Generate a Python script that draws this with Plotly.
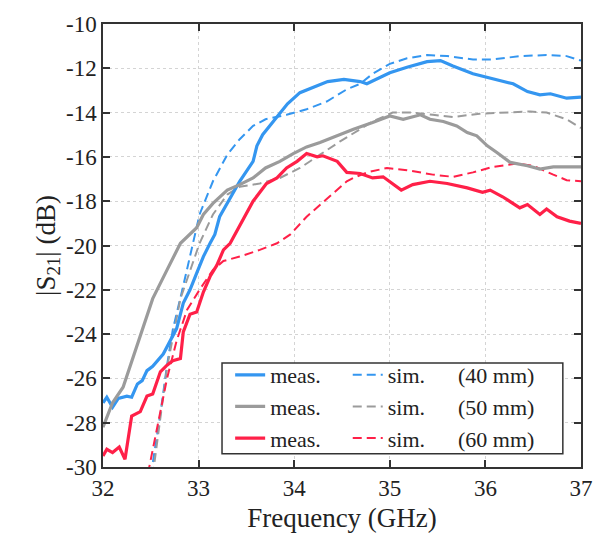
import plotly.graph_objects as go

# ---- data ----
blue_meas_x = [32.00, 32.04, 32.10, 32.16, 32.25, 32.30, 32.36, 32.41, 32.46, 32.52, 32.63, 32.70, 32.77, 32.84, 32.91, 32.98, 33.05, 33.12, 33.17, 33.22, 33.31, 33.43, 33.57, 33.61, 33.67, 33.82, 33.93, 34.06, 34.17, 34.35, 34.52, 34.69, 34.76, 35.00, 35.18, 35.39, 35.53, 35.66, 35.87, 36.02, 36.29, 36.44, 36.57, 36.68, 36.85, 37.00]
blue_meas_y = [-27.1, -26.85, -27.3, -26.9, -26.8, -26.85, -26.25, -26.1, -25.65, -25.45, -24.9, -24.3, -23.75, -22.6, -22.0, -21.25, -20.5, -19.9, -19.5, -18.7, -18.0, -17.1, -16.2, -15.5, -15.0, -14.2, -13.6, -13.1, -12.9, -12.6, -12.5, -12.6, -12.7, -12.2, -11.95, -11.7, -11.65, -11.9, -12.25, -12.4, -12.7, -13.05, -13.2, -13.15, -13.35, -13.3]

blue_sim_x = [32.50, 32.60, 32.67, 32.73, 32.83, 32.96, 33.01, 33.15, 33.30, 33.43, 33.57, 33.70, 33.92, 34.13, 34.34, 34.55, 34.69, 34.82, 35.00, 35.18, 35.39, 35.60, 35.87, 36.08, 36.36, 36.64, 36.85, 37.00]
blue_sim_y = [-30.4, -27.6, -25.4, -23.8, -22.0, -19.6, -18.6, -17.1, -15.9, -15.2, -14.6, -14.3, -14.1, -13.85, -13.5, -12.95, -12.7, -12.25, -11.8, -11.55, -11.4, -11.45, -11.6, -11.6, -11.45, -11.4, -11.45, -11.65]

gray_meas_x = [32.00, 32.10, 32.21, 32.31, 32.42, 32.52, 32.67, 32.81, 32.98, 33.05, 33.15, 33.30, 33.43, 33.57, 33.70, 33.85, 33.99, 34.13, 34.27, 34.41, 34.55, 34.62, 34.82, 35.00, 35.14, 35.32, 35.42, 35.56, 35.70, 35.81, 35.91, 36.02, 36.12, 36.26, 36.44, 36.57, 36.71, 36.85, 37.00]
gray_meas_y = [-28.2, -27.1, -26.4, -25.1, -23.6, -22.4, -21.1, -19.9, -19.2, -18.6, -18.1, -17.5, -17.25, -16.95, -16.5, -16.2, -15.85, -15.55, -15.35, -15.1, -14.85, -14.75, -14.45, -14.15, -14.3, -14.1, -14.3, -14.4, -14.6, -14.9, -15.05, -15.5, -15.8, -16.25, -16.4, -16.55, -16.45, -16.45, -16.45]

gray_sim_x = [32.52, 32.60, 32.67, 32.81, 32.98, 33.01, 33.15, 33.30, 33.43, 33.64, 33.85, 34.06, 34.27, 34.48, 34.69, 34.82, 35.03, 35.24, 35.45, 35.66, 35.94, 36.23, 36.47, 36.64, 36.85, 37.00]
gray_sim_y = [-30.4, -27.8, -25.5, -22.4, -20.2, -19.9, -18.6, -17.7, -17.35, -17.2, -16.95, -16.5, -15.9, -15.3, -14.75, -14.4, -14.0, -14.0, -14.1, -14.2, -14.05, -14.0, -13.95, -14.0, -14.3, -14.7]

red_meas_x = [32.00, 32.04, 32.10, 32.17, 32.23, 32.30, 32.39, 32.46, 32.52, 32.60, 32.67, 32.73, 32.81, 32.84, 32.91, 32.98, 33.05, 33.12, 33.19, 33.26, 33.33, 33.46, 33.57, 33.71, 33.82, 33.92, 34.03, 34.13, 34.24, 34.30, 34.45, 34.55, 34.69, 34.82, 34.93, 35.12, 35.24, 35.42, 35.60, 35.81, 35.97, 36.05, 36.18, 36.36, 36.44, 36.57, 36.64, 36.75, 36.88, 37.00]
red_meas_y = [-29.5, -29.2, -29.35, -29.1, -29.65, -27.7, -27.5, -26.8, -26.7, -25.7, -25.4, -25.2, -25.1, -23.9, -23.1, -23.0, -22.1, -21.4, -20.9, -20.2, -19.9, -18.9, -18.0, -17.2, -16.95, -16.5, -16.2, -15.85, -16.0, -15.95, -16.2, -16.7, -16.75, -16.95, -16.9, -17.5, -17.25, -17.1, -17.2, -17.4, -17.6, -17.5, -17.8, -18.3, -18.15, -18.6, -18.35, -18.7, -18.9, -19.0]

red_sim_x = [32.47, 32.56, 32.67, 32.77, 32.88, 33.01, 33.15, 33.26, 33.43, 33.64, 33.82, 33.96, 34.13, 34.34, 34.55, 34.62, 34.76, 34.97, 35.18, 35.45, 35.66, 35.87, 36.08, 36.33, 36.50, 36.71, 36.85, 37.00]
red_sim_y = [-30.3, -28.3, -26.0, -24.3, -22.9, -22.0, -21.1, -20.7, -20.5, -20.2, -19.9, -19.5, -18.7, -17.9, -17.1, -16.95, -16.7, -16.5, -16.6, -16.8, -16.9, -16.7, -16.45, -16.3, -16.4, -16.8, -17.05, -17.1]

x_ticks = [32, 33, 34, 35, 36, 37]
x_tick_text = ["32", "33", "34", "35", "36", "37"]
y_ticks = [-30, -28, -26, -24, -22, -20, -18, -16, -14, -12, -10]
y_tick_text = ["-30", "-28", "-26", "-24", "-22", "-20", "-18", "-16", "-14", "-12", "-10"]
labels_meas = ["meas.", "meas.", "meas."]
labels_len = ["(40 mm)", "(50 mm)", "(60 mm)"]

BLUE = "rgb(52,150,240)"
GRAY = "rgb(155,155,155)"
RED = "rgb(255,32,72)"
FONT = "Times New Roman"
TXT = "#222222"

fig = go.Figure()
series = [
    (blue_meas_x, blue_meas_y, blue_sim_x, blue_sim_y, BLUE, labels_len[0]),
    (gray_meas_x, gray_meas_y, gray_sim_x, gray_sim_y, GRAY, labels_len[1]),
    (red_meas_x, red_meas_y, red_sim_x, red_sim_y, RED, labels_len[2]),
]
for i, (mx, my, sx, sy, col, lab) in enumerate(series):
    fig.add_trace(go.Scatter(x=sx, y=sy, mode="lines", name="sim.&nbsp;&nbsp;&nbsp;&nbsp;&nbsp;&nbsp;" + lab,
                             line=dict(color=col, width=2, dash="9px,5px"),
                             legend="legend2", legendrank=i))
for i, (mx, my, sx, sy, col, lab) in enumerate(series):
    fig.add_trace(go.Scatter(x=mx, y=my, mode="lines", name=labels_meas[i],
                             line=dict(color=col, width=3.2),
                             legend="legend", legendrank=i))

axis_common = dict(
    showline=True, linecolor="#333333", linewidth=1.5, mirror="allticks",
    ticks="inside", ticklen=7, tickwidth=1.5, tickcolor="#333333",
    showgrid=True, gridcolor="#d4d4d4", gridwidth=1, griddash="dot",
    zeroline=False, tickfont=dict(family=FONT, size=23, color=TXT),
)

fig.update_xaxes(range=[32, 37], tickvals=x_ticks, ticktext=x_tick_text,
                 title=dict(text="Frequency (GHz)", font=dict(family=FONT, size=27, color=TXT), standoff=8),
                 **axis_common)
fig.update_yaxes(range=[-30, -10], tickvals=y_ticks, ticktext=y_tick_text,
                 title=dict(text="|S<sub>21</sub>| (dB)", font=dict(family=FONT, size=27, color=TXT), standoff=3),
                 **axis_common)

legend_common = dict(font=dict(family=FONT, size=22, color=TXT), bgcolor="rgba(0,0,0,0)",
                     borderwidth=0, xanchor="left", yanchor="top", tracegroupgap=0)
fig.update_layout(
    width=608, height=544,
    margin=dict(l=103, r=27, t=16, b=77),
    paper_bgcolor="white", plot_bgcolor="white",
    font=dict(family=FONT, color=TXT),
    showlegend=True,
    legend=dict(x=0.266, y=0.255, **legend_common),
    legend2=dict(x=0.512, y=0.255, **legend_common),
    shapes=[dict(type="rect", xref="paper", yref="paper", x0=0.249, x1=0.962, y0=0.030, y1=0.235,
                 line=dict(color="#333333", width=1.5), fillcolor="white", layer="above")],
)

fig.write_html("out.html")
